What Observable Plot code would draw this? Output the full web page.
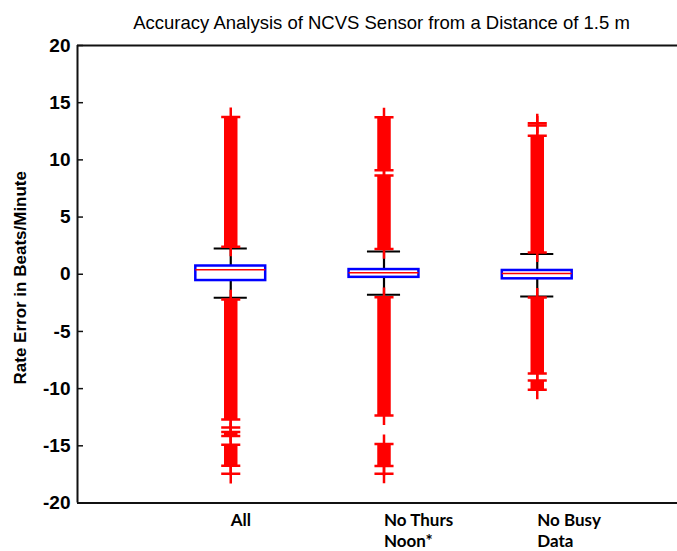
<!DOCTYPE html>
<html>
<head>
<meta charset="utf-8">
<script src="https://cdn.jsdelivr.net/npm/d3@7"></script>
<script src="https://cdn.jsdelivr.net/npm/@observablehq/plot@0.6"></script>
<style>
  html, body { margin: 0; padding: 0; background: #fff; overflow: hidden; }
  #title {
    box-sizing: border-box; width: 677px; height: 30px; padding: 14px 0 0 86px;
    font: 18.5px "Liberation Sans", Arial, sans-serif; line-height: 1; color: #000;
    text-align: center; white-space: nowrap; overflow: visible;
  }
  #chart svg { display: block; }
</style>
</head>
<body>
<div id="title"></div>
<div id="chart"></div>
<script>
// ---- data ----
const title = "Accuracy Analysis of NCVS Sensor from a Distance of 1.5 m";
const yLabel = "Rate Error in Beats/Minute";
const categories = ["All", "No Thurs\nNoon*", "No Busy\nData"];
const whiskerLow  = [-2.06, -1.80, -1.95];
const q1          = [-0.55, -0.27, -0.40];
const medians     = [0.40, 0.13, 0.07];
const q3          = [0.72, 0.41, 0.33];
const whiskerHigh = [2.25, 1.99, 1.76];
// dense runs of outliers (index of category, lowest and highest outlier of the run)
const runGroup = [0, 0, 0, 0, 1, 1, 1, 1, 2, 2, 2];
const runLow   = [2.40, -12.70, -14.15, -16.75, 2.20, 9.10, -12.35, -16.76, 1.90, -8.67, -10.10];
const runHigh  = [13.75, -2.20, -13.80, -14.90, 8.63, 13.73, -2.00, -14.84, 12.10, -2.03, -9.30];
// isolated outliers
const pointGroup = [0, 0, 1, 2, 2];
const pointValue = [-13.40, -17.45, -17.44, 13.00, 13.20];
const yTicks = [-20, -15, -10, -5, 0, 5, 10, 15, 20];

document.getElementById("title").textContent = title;

// ---- tables built from the arrays ----
const boxes = categories.map((c, i) => ({
  pos: i + 1, label: c, lo: whiskerLow[i], q1: q1[i], med: medians[i], q3: q3[i], hi: whiskerHigh[i]
}));
const runs = runGroup.map((g, j) => ({pos: g + 1, lo: runLow[j], hi: runHigh[j]}));
const runEnds = runs.flatMap(r => [{pos: r.pos, v: r.lo}, {pos: r.pos, v: r.hi}]);
const points = pointGroup.map((g, j) => ({pos: g + 1, v: pointValue[j]}));

const boxHalf = 0.228, capHalf = 0.108;
const RED = "#ff0000", BLUE = "#0000ff", INK = "#111";
const labelSize = 17;

const svg = Plot.plot({
  width: 677, height: 521,
  marginLeft: 77, marginRight: 0, marginTop: 15, marginBottom: 48.5,
  style: {fontFamily: "'Liberation Sans', Arial, sans-serif", background: "white", color: "black"},
  x: {domain: [0, 4], range: [77, 690], axis: null},
  y: {domain: [-20, 20], axis: null},
  marks: [
    // frame
    Plot.ruleY([-20, 20], {stroke: INK, strokeWidth: 2}),
    Plot.ruleX([0], {stroke: INK, strokeWidth: 2}),
    // inward y ticks
    Plot.ruleY(yTicks, {stroke: INK, strokeWidth: 1.5, insetRight: 594}),
    Plot.text(yTicks, {y: d => d, frameAnchor: "left", textAnchor: "end", dx: -7,
      text: d => String(d), fontSize: 19, fontWeight: "bold", fill: "black"}),
    Plot.text([yLabel], {frameAnchor: "left", textAnchor: "middle", lineAnchor: "middle", rotate: -90,
      dx: -57, dy: 3.5, text: d => d, fontSize: 17, fontWeight: "bold", fill: "black"}),
    // whiskers
    Plot.ruleX(boxes, {x: "pos", y1: "q3", y2: "hi", stroke: "black", strokeWidth: 2.2}),
    Plot.ruleX(boxes, {x: "pos", y1: "q1", y2: "lo", stroke: "black", strokeWidth: 2.2}),
    Plot.ruleY(boxes, {y: "hi", x1: d => d.pos - capHalf, x2: d => d.pos + capHalf, stroke: "black", strokeWidth: 2}),
    Plot.ruleY(boxes, {y: "lo", x1: d => d.pos - capHalf, x2: d => d.pos + capHalf, stroke: "black", strokeWidth: 2}),
    // outliers (+ markers, densely packed runs)
    Plot.ruleX(runs, {x: "pos", y1: "lo", y2: "hi", stroke: RED, strokeWidth: 13.5}),
    Plot.dot(runEnds, {x: "pos", y: "v", symbol: "plus", r: 6.2, stroke: RED, strokeWidth: 2.5, fill: "none"}),
    Plot.dot(points, {x: "pos", y: "v", symbol: "plus", r: 6.2, stroke: RED, strokeWidth: 2.5, fill: "none"}),
    // boxes and medians
    Plot.rect(boxes, {x1: d => d.pos - boxHalf, x2: d => d.pos + boxHalf, y1: "q1", y2: "q3",
      fill: "white", stroke: BLUE, strokeWidth: 2.5}),
    Plot.ruleY(boxes, {y: "med", x1: d => d.pos - boxHalf, x2: d => d.pos + boxHalf, stroke: RED, strokeWidth: 1.5}),
    // category labels
    Plot.text(boxes, {x: "pos", frameAnchor: "bottom", text: "label", textAnchor: "start", lineAnchor: "top",
      dy: 8, lineHeight: 21 / labelSize, fontSize: labelSize, fontWeight: "bold",
      fontFamily: "Lato, 'Open Sans', sans-serif", fill: "black", ariaLabel: "category-labels"})
  ]
});

document.getElementById("chart").append(svg);

// center each label block on its first line (lines stay left-aligned, as in the reference)
svg.querySelectorAll('g[aria-label="category-labels"] text').forEach(t => {
  const first = t.querySelector("tspan") || t;
  const w = first.getComputedTextLength();
  const tr = t.getAttribute("transform") || "";
  t.setAttribute("transform", `${tr} translate(${-w / 2},0)`);
});
</script>
</body>
</html>
